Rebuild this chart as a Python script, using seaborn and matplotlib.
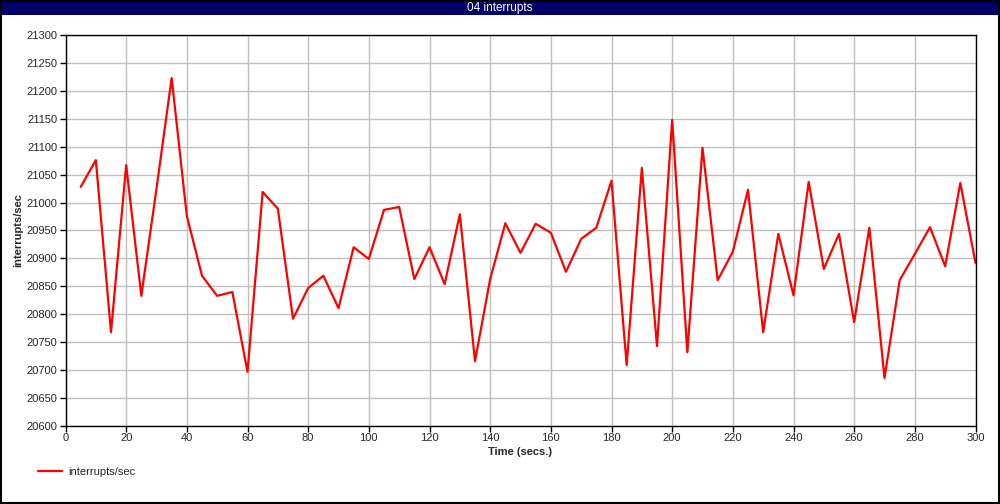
import matplotlib
matplotlib.use("Agg")
import matplotlib.pyplot as plt
import seaborn as sns
import pandas as pd
from matplotlib.patches import Rectangle

time_secs = list(range(5, 301, 5))
interrupts_per_sec = [
    21028, 21076, 20768, 21067, 20833, 21025, 21223, 20976, 20869, 20833,
    20840, 20697, 21019, 20989, 20792, 20847, 20869, 20811, 20920, 20899,
    20987, 20992, 20863, 20920, 20854, 20979, 20716, 20863, 20963, 20910,
    20962, 20946, 20876, 20935, 20955, 21039, 20709, 21062, 20743, 21148,
    20732, 21098, 20861, 20912, 21023, 20768, 20944, 20834, 21037, 20881,
    20944, 20786, 20955, 20686, 20861, 20908, 20956, 20886, 21035, 20892,
]
x_ticks = list(range(0, 301, 20))
y_ticks = list(range(20600, 21301, 50))
title = "04 interrupts"
series_name = "interrupts/sec"

df = pd.DataFrame({"Time (secs.)": time_secs, series_name: interrupts_per_sec})

sns.set_style("white")
plt.rcParams["font.family"] = ["Liberation Sans", "DejaVu Sans"]

fig = plt.figure(figsize=(10, 5.04), dpi=100)
ax = fig.add_axes([0.0655, 1 - 426 / 504, 0.910, (426 - 35) / 504])

sns.lineplot(data=df, x="Time (secs.)", y=series_name, ax=ax, color="#ff0000",
             linewidth=1.6, label=series_name, legend=False)

ax.set_xlim(0, 300)
ax.set_ylim(20600, 21300)
ax.set_xticks(x_ticks)
ax.set_yticks(y_ticks)
ax.grid(True, color="#c0c0c0", linewidth=1)
ax.set_axisbelow(True)
for s in ax.spines.values():
    s.set_color("black")
    s.set_linewidth(1)
ax.tick_params(axis="both", direction="out", length=4, width=1, color="black",
               labelsize=8, pad=1, bottom=True, left=True)
ax.tick_params(axis="y", pad=2)
ax.set_xlabel("Time (secs.)", fontsize=8, fontweight="bold", labelpad=3)
ax.set_ylabel("interrupts/sec", fontsize=8, fontweight="bold", labelpad=2)

# title bar
fig.patches.append(Rectangle((0, 1 - 15 / 504), 1, 15 / 504, transform=fig.transFigure,
                             facecolor="#000066", edgecolor="none", zorder=0))
fig.text(0.5, 1 - 7.5 / 504, title, color="white", fontsize=8.5, ha="center", va="center")
# outer border
fig.patches.append(Rectangle((0.0005, 0.001), 0.998, 0.998, transform=fig.transFigure,
                             facecolor="none", edgecolor="black", linewidth=1.5, zorder=5))

# legend
handles, labels = ax.get_legend_handles_labels()
fig.legend(handles, labels, loc="center left", bbox_to_anchor=(0.028, 1 - 472 / 504),
           frameon=False, fontsize=8, handlelength=2.2, handletextpad=0.5)

fig.savefig("out.png", dpi=100)
